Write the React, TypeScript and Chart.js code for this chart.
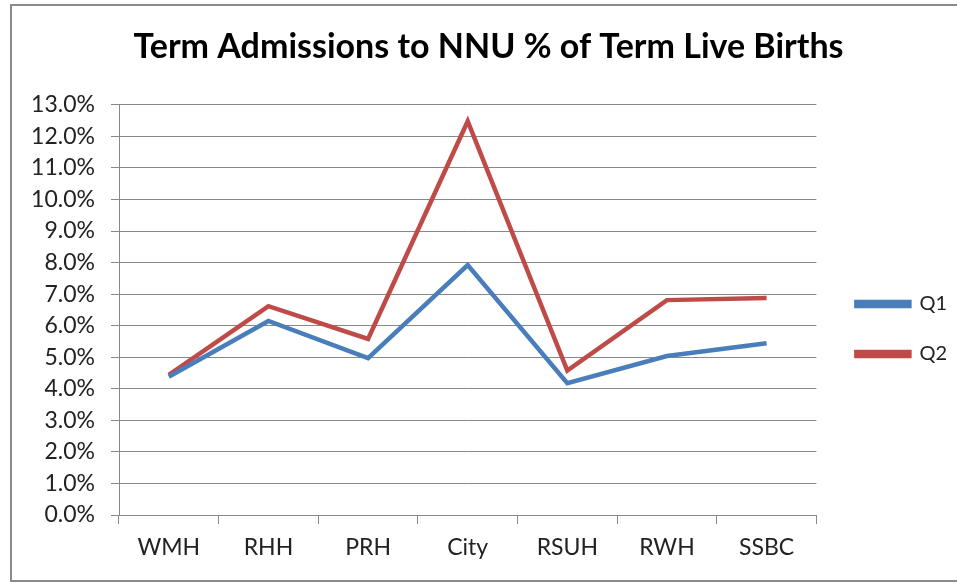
import React, { useEffect, useRef } from "react";
import { Chart, registerables } from "chart.js";

Chart.register(...registerables);

const categories = ["WMH", "RHH", "PRH", "City", "RSUH", "RWH", "SSBC"];
const q1Values = [4.38, 6.15, 4.97, 7.92, 4.18, 5.04, 5.44];
const q2Values = [4.44, 6.62, 5.58, 12.48, 4.58, 6.81, 6.88];
const yMin = 0;
const yMax = 13;
const yStep = 1;

const FONT = "Lato";

export default function App() {
  const ref = useRef<HTMLCanvasElement>(null);

  useEffect(() => {
    if (!ref.current) return;
    const chart = new Chart(ref.current, {
      type: "line",
      data: {
        labels: categories,
        datasets: [
          {
            label: "Q1",
            data: q1Values,
            borderColor: "#4A7EBB",
            backgroundColor: "#4A7EBB",
            borderWidth: 4.5,
            pointRadius: 0,
            tension: 0,
          },
          {
            label: "Q2",
            data: q2Values,
            borderColor: "#BE4B48",
            backgroundColor: "#BE4B48",
            borderWidth: 4.5,
            pointRadius: 0,
            tension: 0,
          },
        ],
      },
      options: {
        responsive: false,
        animation: false,
        layout: { padding: { left: 20, right: 0, top: 0, bottom: 0 } },
        plugins: {
          title: {
            display: true,
            text: "Term Admissions to NNU % of Term Live Births",
            font: { family: FONT, size: 34, weight: "bold" },
            color: "#000",
            padding: { top: 27, bottom: 37 },
          },
          legend: {
            position: "right",
            title: {
              display: true,
              text: " ",
              font: { family: FONT, size: 20 },
              padding: 26,
            },
            labels: {
              boxWidth: 53,
              boxHeight: 4,
              padding: 30,
              font: { family: FONT, size: 20 },
              color: "#222",
            },
          },
          tooltip: { enabled: false },
        },
        scales: {
          x: {
            offset: true,
            grid: {
              offset: true,
              drawOnChartArea: false,
              drawTicks: true,
              tickLength: 9,
              color: "#888",
            },
            border: { color: "#888" },
            ticks: {
              font: { family: FONT, size: 23 },
              color: "#222",
              padding: 10,
            },
            afterFit: (s: any) => {
              s.height = 67;
            },
          },
          y: {
            min: yMin,
            max: yMax,
            ticks: {
              stepSize: yStep,
              callback: (v: any) => Number(v).toFixed(1) + "%",
              padding: 16,
              font: { family: FONT, size: 23 },
              color: "#222",
            },
            grid: { color: "#888", tickLength: 8 },
            border: { color: "#888" },
            afterFit: (s: any) => {
              s.width = 99;
            },
          },
          y2: {
            position: "right",
            display: true,
            grid: { display: false, drawTicks: false },
            ticks: { display: false },
            border: { display: false },
            afterFit: (s: any) => {
              s.width = 10;
            },
          },
        },
      } as any,
    });
    return () => chart.destroy();
  }, []);

  return (
    <div
      style={{
        position: "fixed",
        left: 0,
        top: 0,
        width: 957,
        height: 582,
        background: "#fff",
        overflow: "hidden",
      }}
    >
      <canvas ref={ref} width={957} height={582} style={{ display: "block" }} />
      <div
        style={{
          position: "absolute",
          left: 10,
          top: 4,
          width: 1000,
          height: 578,
          boxSizing: "border-box",
          border: "2px solid #8a8a8a",
          pointerEvents: "none",
        }}
      />
    </div>
  );
}
